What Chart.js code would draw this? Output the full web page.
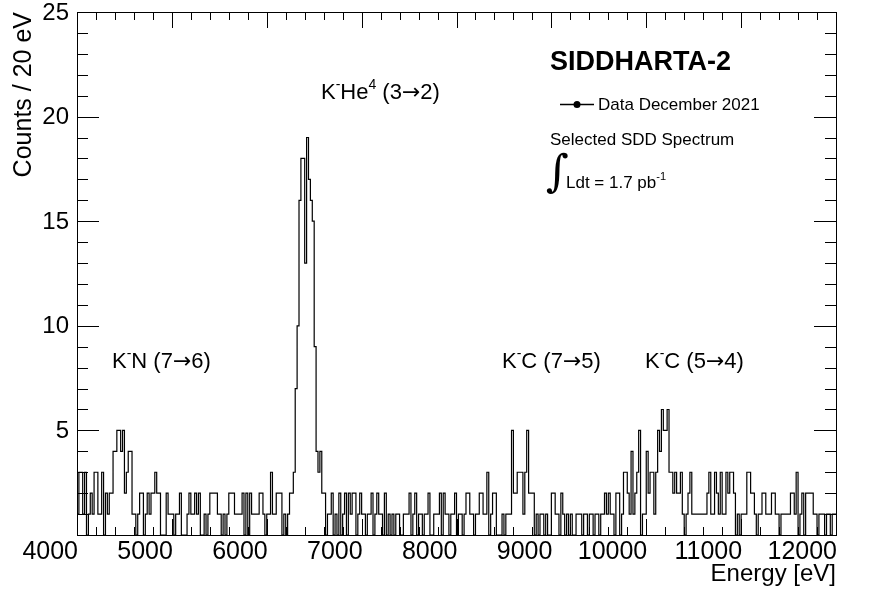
<!DOCTYPE html>
<html>
<head>
<meta charset="utf-8">
<script src="https://cdn.jsdelivr.net/npm/chart.js@4.4.1/dist/chart.umd.min.js"></script>
<style>
  body { margin: 0; background: #fff; }
  #spectrum { display: block; }
</style>
</head>
<body>
<canvas id="spectrum" width="872" height="589"></canvas>
<script>
// histogram binning: 20 eV bins from 4000 to 12000 eV
var binLow = 4000;
var binWidth = 20;

// counts per bin, one array per 1000 eV
var counts4000 = [2,1,3,3,1,3,0,1,2,1, 3,3,1,1,3,0,2,1,2,2, 4,4,5,5,4,5,2,3,4,4, 1,1,0,1,2,2,0,1,2,1, 2,2,3,2,2,0,0,0,2,1];
var counts5000 = [1,1,0,1,1,2,0,0,0,1, 2,1,1,2,1,2,0,0,1,0, 1,2,2,2,2,1,1,0,1,0, 1,2,2,2,1,1,1,1,2,0, 2,0,2,1,1,1,1,2,2,1];
var counts6000 = [0,1,1,3,1,1,2,2,2,0, 1,0,1,2,2,3,7,10,16,18, 18,13,19,17,16,15,9,4,3,4, 2,2,0,1,1,2,0,1,0,2, 0,1,2,0,2,1,2,2,0,1];
var counts7000 = [2,1,1,0,1,1,2,0,1,2, 1,1,0,2,0,1,0,1,0,1, 1,0,0,1,1,1,2,0,1,2, 0,1,1,0,1,1,2,0,0,1, 1,1,2,0,2,1,1,0,1,1];
var counts8000 = [2,0,1,1,0,1,2,2,1,1, 0,1,1,2,2,1,1,3,0,1, 2,2,0,0,0,1,0,1,1,1, 5,2,2,3,3,3,1,3,5,2, 2,2,0,1,0,1,1,0,1,0];
var counts9000 = [0,2,2,1,1,0,2,1,0,1, 0,1,0,0,1,1,1,0,1,1, 0,1,1,0,1,1,0,1,1,2, 1,2,1,1,0,2,2,0,1,3, 3,2,1,4,1,2,3,5,0,1];
var counts10000 = [1,4,2,3,3,1,3,5,4,6, 5,5,6,3,3,2,3,2,2,3, 1,0,1,2,3,1,1,1,1,1, 1,1,1,2,3,1,1,3,2,1, 3,1,1,3,2,3,3,2,0,1];
var counts11000 = [0,1,1,1,3,3,2,2,1,0, 1,1,2,2,1,1,1,2,2,1, 1,0,1,1,1,1,1,2,2,1, 3,0,1,2,0,2,2,2,2,1, 1,0,1,1,1,0,1,1,0,1];

var xTicks = [4000, 5000, 6000, 7000, 8000, 9000, 10000, 11000, 12000];
var yTicks = [5, 10, 15, 20, 25];

var counts = [].concat(counts4000, counts5000, counts6000, counts7000,
                       counts8000, counts9000, counts10000, counts11000);

var points = counts.map(function (c, i) {
  return { x: binLow + i * binWidth, y: c };
});
points.push({ x: binLow + counts.length * binWidth, y: counts[counts.length - 1] });

// text with superscripts: parts = [[text, kind], ...] kind: 0 normal, 1 superscript, 2 arrow
function richText(ctx, parts, x, y, size, bold) {
  var f = (bold ? 'bold ' : '') + size + 'px "Liberation Sans", Arial, sans-serif';
  var fs = Math.round(size * 0.65) + 'px "Liberation Sans", Arial, sans-serif';
  var fa = size + 'px "DejaVu Sans", sans-serif';
  ctx.textAlign = 'left';
  ctx.textBaseline = 'alphabetic';
  parts.forEach(function (p) {
    ctx.font = p[1] === 1 ? fs : (p[1] === 2 ? fa : f);
    ctx.fillText(p[0], x, p[1] === 1 ? y - size * 0.45 : y);
    x += ctx.measureText(p[0]).width;
  });
}

var frameAndText = {
  id: 'frameAndText',
  afterDraw: function (chart) {
    var ctx = chart.ctx;
    var a = chart.chartArea;
    var xs = chart.scales.x, ys = chart.scales.y;
    ctx.save();
    ctx.strokeStyle = '#000';
    ctx.fillStyle = '#000';
    ctx.lineWidth = 1;
    ctx.strokeRect(Math.round(a.left) + 0.5, Math.round(a.top) + 0.5,
                   Math.round(a.right - a.left), Math.round(a.bottom - a.top));

    ctx.beginPath();
    for (var v = 4000; v <= 12000; v += 200) {
      var px = Math.round(xs.getPixelForValue(v)) + 0.5;
      var len = v % 1000 === 0 ? 16 : 8;
      ctx.moveTo(px, a.bottom); ctx.lineTo(px, a.bottom - len);
      ctx.moveTo(px, a.top); ctx.lineTo(px, a.top + len);
    }
    for (var w = 0; w <= 25; w++) {
      var py = Math.round(ys.getPixelForValue(w)) + 0.5;
      var l2 = w % 5 === 0 ? 22 : 11;
      ctx.moveTo(a.left, py); ctx.lineTo(a.left + l2, py);
      ctx.moveTo(a.right, py); ctx.lineTo(a.right - l2, py);
    }
    ctx.stroke();

    // tick labels
    ctx.font = '25px "Liberation Sans", Arial, sans-serif';
    ctx.textAlign = 'right';
    ctx.textBaseline = 'top';
    xTicks.forEach(function (t) {
      ctx.fillText(String(t), xs.getPixelForValue(t) + 1, a.bottom + 5);
    });
    ctx.font = '24px "Liberation Sans", Arial, sans-serif';
    ctx.textBaseline = 'middle';
    yTicks.forEach(function (t) {
      ctx.fillText(String(t), a.left - 8, ys.getPixelForValue(t) + 1);
    });

    // axis titles
    ctx.textBaseline = 'alphabetic';
    ctx.fillText('Energy [eV]', a.right, 581);
    ctx.save();
    ctx.translate(31, a.top);
    ctx.rotate(-Math.PI / 2);
    ctx.textAlign = 'right';
    ctx.font = '25px "Liberation Sans", Arial, sans-serif';
    ctx.fillText('Counts / 20 eV', 0, 0);
    ctx.restore();

    // peak labels
    richText(ctx, [['K', 0], ['-', 1], ['He', 0], ['4', 1], [' (3', 0], ['\u2192', 2], ['2)', 0]], 321, 99, 22);
    richText(ctx, [['K', 0], ['-', 1], ['N (7', 0], ['\u2192', 2], ['6)', 0]], 112, 368, 22);
    richText(ctx, [['K', 0], ['-', 1], ['C (7', 0], ['\u2192', 2], ['5)', 0]], 502, 368, 22);
    richText(ctx, [['K', 0], ['-', 1], ['C (5', 0], ['\u2192', 2], ['4)', 0]], 645, 368, 22);

    // title and legend block
    richText(ctx, [['SIDDHARTA-2', 0]], 550, 70, 27, true);
    ctx.beginPath();
    ctx.lineWidth = 1.5;
    ctx.moveTo(560, 104.5); ctx.lineTo(594, 104.5);
    ctx.stroke();
    ctx.beginPath();
    ctx.arc(577, 104.5, 3.5, 0, Math.PI * 2);
    ctx.fill();
    richText(ctx, [['Data December 2021', 0]], 598, 110, 17);
    richText(ctx, [['Selected SDD Spectrum', 0]], 550, 145, 17);
    ctx.font = '44px "DejaVu Serif", serif';
    ctx.textAlign = 'left';
    ctx.fillText('\u222B', 546, 186);
    richText(ctx, [['Ldt = 1.7 pb', 0], ['-1', 1]], 566, 188, 17);
    ctx.restore();
  }
};

var ctx = document.getElementById('spectrum');
var spectrumChart = new Chart(ctx, {
  type: 'line',
  data: {
    datasets: [{
      data: points,
      stepped: 'after',
      borderColor: '#000',
      borderWidth: 1.2,
      pointRadius: 0,
      fill: false,
    }],
  },
  options: {
    responsive: false,
    devicePixelRatio: 1,
    animation: false,
    layout: { padding: { left: 77, right: 36, top: 12, bottom: 54 } },
    plugins: { legend: { display: false }, tooltip: { enabled: false } },
    scales: {
      x: { type: 'linear', min: 4000, max: 12000, display: false },
      y: { min: 0, max: 25, display: false },
    },
  },
  plugins: [frameAndText],
});
</script>
</body>
</html>
